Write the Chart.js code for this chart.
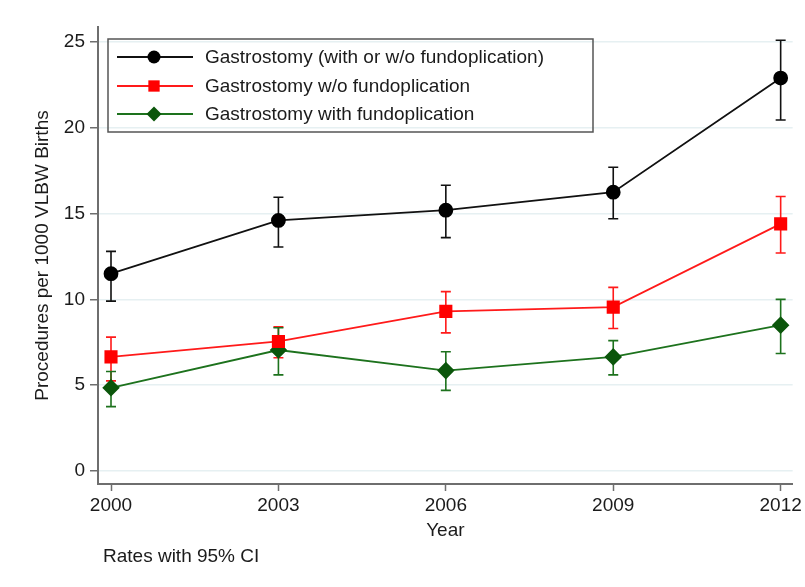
<!DOCTYPE html>
<html>
<head>
<meta charset="utf-8">
<script src="https://cdn.jsdelivr.net/npm/chart.js@4.4.1/dist/chart.umd.min.js"></script>
<style>
  body { margin: 0; background: #fff; }
  #wrap { width: 805px; height: 587px; }
</style>
</head>
<body>
<div id="wrap"><canvas id="gastroChart" width="805" height="587"></canvas></div>
<script>
// data
const years = [2000, 2003, 2006, 2009, 2012];
const yTicks = [0, 5, 10, 15, 20, 25];

const totalRate = [11.5, 14.6, 15.2, 16.25, 22.9];
const totalLow = [9.9, 13.05, 13.6, 14.7, 20.45];
const totalHigh = [12.8, 15.95, 16.65, 17.7, 25.1];

const withoutRate = [6.65, 7.55, 9.3, 9.55, 14.4];
const withoutLow = [5.25, 6.6, 8.05, 8.3, 12.7];
const withoutHigh = [7.8, 8.4, 10.45, 10.7, 16.0];

const withRate = [4.85, 7.05, 5.85, 6.65, 8.5];
const withLow = [3.75, 5.6, 4.7, 5.6, 6.85];
const withHigh = [5.8, 8.35, 6.95, 7.6, 10.0];

const seriesLabels = [
    'Gastrostomy (with or w/o fundoplication)',
    'Gastrostomy w/o fundoplication',
    'Gastrostomy with fundoplication',
];

const FONT = '"Liberation Sans", Arial, Helvetica, sans-serif';
const TEXT = '#1b1b1b';
const AXIS = '#6e6e6e';
const FS = 19;

function pts(vals) {
    return years.map((yr, i) => ({ x: yr, y: vals[i] }));
}

function drawMarker(ctx, style, r, x, y) {
    ctx.beginPath();
    if (style === 'circle') {
        ctx.arc(x, y, r, 0, Math.PI * 2);
    } else if (style === 'rect') {
        const s = r * Math.SQRT1_2;
        ctx.rect(x - s, y - s, 2 * s, 2 * s);
    } else {
        ctx.moveTo(x - r, y); ctx.lineTo(x, y - r);
        ctx.lineTo(x + r, y); ctx.lineTo(x, y + r);
        ctx.closePath();
    }
    ctx.fill();
}

// error bars, drawn under the markers
const errorBars = {
    id: 'errorBars',
    beforeDatasetsDraw(chart) {
        const ctx = chart.ctx;
        const xs = chart.scales.x, ys = chart.scales.y;
        chart.data.datasets.forEach((ds) => {
            ctx.save();
            ctx.strokeStyle = ds.barColor;
            ctx.lineWidth = 1.6;
            ds.low.forEach((lo, i) => {
                const x = xs.getPixelForValue(years[i]);
                const y1 = ys.getPixelForValue(lo);
                const y2 = ys.getPixelForValue(ds.high[i]);
                ctx.beginPath();
                ctx.moveTo(x, y1); ctx.lineTo(x, y2);
                ctx.moveTo(x - 5, y1); ctx.lineTo(x + 5, y1);
                ctx.moveTo(x - 5, y2); ctx.lineTo(x + 5, y2);
                ctx.stroke();
            });
            ctx.restore();
        });
    },
};

// Stata style legend box and note
const boxLegend = {
    id: 'boxLegend',
    afterDraw(chart) {
        const ctx = chart.ctx;
        ctx.save();
        ctx.strokeStyle = '#555';
        ctx.lineWidth = 1.5;
        ctx.strokeRect(108, 39, 485, 93);
        const rows = [57, 86, 114];
        chart.data.datasets.forEach((ds, i) => {
            const y = rows[i];
            ctx.strokeStyle = ds.borderColor;
            ctx.lineWidth = 1.8;
            ctx.beginPath();
            ctx.moveTo(117, y); ctx.lineTo(193, y);
            ctx.stroke();
            ctx.fillStyle = ds.pointBackgroundColor;
            drawMarker(ctx, ds.pointStyle, ds.pointRadius, 154, y);
            ctx.fillStyle = TEXT;
            ctx.font = FS + 'px ' + FONT;
            ctx.textBaseline = 'middle';
            ctx.textAlign = 'left';
            ctx.fillText(ds.label, 205, y + 1);
        });
        ctx.fillStyle = TEXT;
        ctx.font = FS + 'px ' + FONT;
        ctx.textBaseline = 'middle';
        ctx.fillText('Rates with 95% CI', 103, 557);
        ctx.restore();
    },
};

new Chart(document.getElementById('gastroChart'), {
    type: 'line',
    data: {
        datasets: [
            {
                label: seriesLabels[0],
                data: pts(totalRate),
                low: totalLow,
                high: totalHigh,
                barColor: '#111',
                borderColor: '#111',
                pointBackgroundColor: '#000',
                pointBorderColor: '#000',
                pointStyle: 'circle',
                pointRadius: 6.5,
                borderWidth: 1.8,
            },
            {
                label: seriesLabels[1],
                data: pts(withoutRate),
                low: withoutLow,
                high: withoutHigh,
                barColor: '#ff1a1a',
                borderColor: '#ff1a1a',
                pointBackgroundColor: '#f00',
                pointBorderColor: '#f00',
                pointStyle: 'rect',
                pointRadius: 8,
                borderWidth: 1.8,
            },
            {
                label: seriesLabels[2],
                data: pts(withRate),
                low: withLow,
                high: withHigh,
                barColor: '#1d721d',
                borderColor: '#1d721d',
                pointBackgroundColor: '#0b560b',
                pointBorderColor: '#0b560b',
                pointStyle: 'rectRot',
                pointRadius: 7.5,
                borderWidth: 1.8,
            },
        ],
    },
    options: {
        responsive: false,
        animation: false,
        layout: { padding: { top: 27, right: 12, left: 0, bottom: 0 } },
        plugins: {
            legend: { display: false },
            tooltip: { enabled: false },
        },
        scales: {
            x: {
                type: 'linear',
                min: 1999.767,
                max: 2012.215,
                afterBuildTicks: (s) => { s.ticks = years.map((v) => ({ value: v })); },
                afterFit: (s) => { s.height = 103; },
                grid: { color: 'rgba(0,0,0,0)', tickColor: AXIS, tickLength: 7, tickWidth: 1.5 },
                border: { color: AXIS, width: 2 },
                ticks: {
                    color: TEXT, padding: 3, maxRotation: 0,
                    font: { size: FS, family: FONT },
                    callback: (v) => String(v),
                },
                title: { display: true, text: 'Year', color: TEXT, font: { size: FS, family: FONT }, padding: { bottom: 45 } },
            },
            y: {
                min: -0.758,
                max: 25.874,
                afterBuildTicks: (s) => { s.ticks = yTicks.map((v) => ({ value: v })); },
                afterFit: (s) => { s.width = 98; },
                grid: { color: '#e6f0f2', lineWidth: 1.5, tickColor: AXIS, tickLength: 8, tickWidth: 1.5 },
                border: { color: AXIS, width: 2 },
                ticks: { color: TEXT, padding: 5, font: { size: FS, family: FONT } },
                title: { display: true, text: 'Procedures per 1000 VLBW Births', color: TEXT, font: { size: FS, family: FONT }, padding: { top: 31 } },
            },
        },
    },
    plugins: [errorBars, boxLegend],
});
</script>
</body>
</html>
